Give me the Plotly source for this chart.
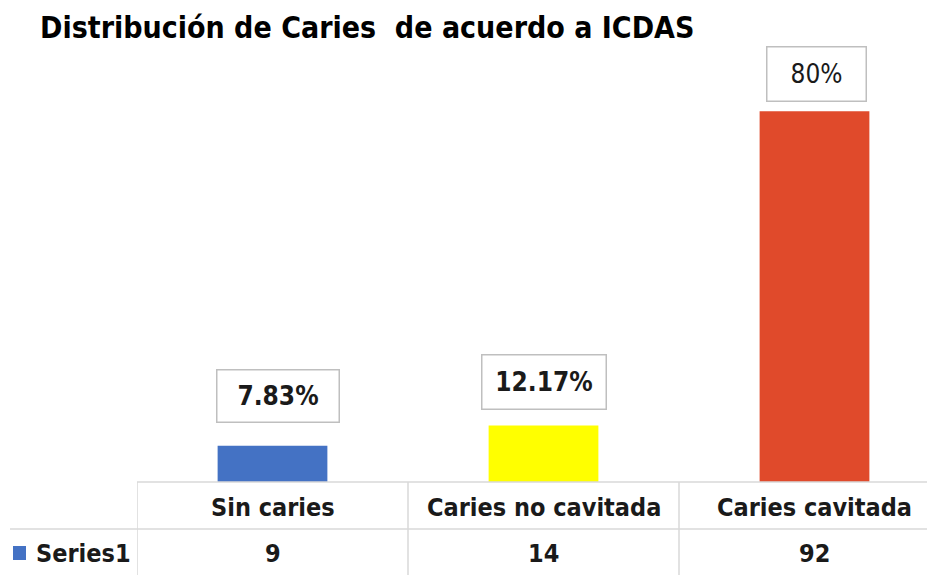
import plotly.graph_objects as go

categories = ["Sin caries", "Caries no cavitada", "Caries cavitada"]
values = [9, 14, 92]
pct_labels = ["7.83%", "12.17%", "80%"]
series_name = "Series1"
title_text = "Distribución de Caries  de acuerdo a ICDAS"

bar_colors = ["#4472C4", "#FFFF00", "#E04A2B"]
label_bold = [True, True, False]
label_gap = [23, 16, 9]
label_box_w = [121, 123, 98]
label_box_h = [51, 53, 53]
label_xshift = [5, 0, 2]

FONT = "DejaVu Sans Condensed, DejaVu Sans, sans-serif"
OFF = 8  # page body margin
SW, SH = 935, 575  # screenshot size
W, H = SW, SH - OFF
ML = 137 - OFF
MR = OFF
MT = 79 - OFF
MB = SH - 482
plot_w = W - ML - MR
plot_h = H - MT - MB
col_w = 271
xr = [-0.5, -0.5 + plot_w / col_w]


def py(px):
    # screenshot pixel row -> paper y
    return (H - MB - (px - OFF)) / plot_h


def pxx(px):
    # screenshot pixel column -> paper x
    return (px - OFF - ML) / plot_w


fig = go.Figure()
fig.add_trace(go.Bar(
    x=categories, y=values, marker=dict(color=bar_colors, line=dict(width=0)),
    width=0.405, name=series_name, showlegend=False, hoverinfo="x+y",
))

TXT = "#1a1a1a"
annotations = []
for i, (c, v, lab) in enumerate(zip(categories, values, pct_labels)):
    txt = f"<b>{lab}</b>" if label_bold[i] else lab
    annotations.append(dict(
        x=c, y=v, xref="x", yref="y", text=txt, showarrow=False,
        yanchor="bottom", yshift=label_gap[i], xshift=label_xshift[i],
        width=label_box_w[i], height=label_box_h[i], borderpad=0,
        bordercolor="#BFBFBF", borderwidth=1.5, bgcolor="white",
        font=dict(family=FONT, size=26, color=TXT),
    ))
    annotations.append(dict(
        x=c, y=py(507), xref="x", yref="paper", text=f"<b>{c}</b>",
        showarrow=False, yanchor="middle",
        font=dict(family=FONT, size=25, color=TXT),
    ))
    annotations.append(dict(
        x=c, y=py(553), xref="x", yref="paper", text=f"<b>{v}</b>",
        showarrow=False, yanchor="middle",
        font=dict(family=FONT, size=25, color=TXT),
    ))

annotations.append(dict(
    x=pxx(34), y=py(553), xref="paper", yref="paper", text=f"<b>{series_name}</b>",
    showarrow=False, xanchor="left", yanchor="middle",
    font=dict(family=FONT, size=25, color=TXT),
))

line_col = "#D9D9D9"
shapes = [
    dict(type="line", xref="paper", yref="paper", x0=0, x1=pxx(SW + 10), y0=py(482), y1=py(482),
         line=dict(color=line_col, width=1.5)),
    dict(type="line", xref="paper", yref="paper", x0=pxx(10), x1=pxx(SW + 10), y0=py(529), y1=py(529),
         line=dict(color=line_col, width=1.5)),
    dict(type="rect", xref="paper", yref="paper", x0=pxx(13), x1=pxx(26), y0=py(560), y1=py(546),
         fillcolor="#4472C4", line=dict(width=0)),
]
for b in [-0.5, 0.5, 1.5]:
    shapes.append(dict(type="line", xref="x", yref="paper", x0=b, x1=b, y0=py(482), y1=py(SH + 2),
                       line=dict(color=line_col, width=1.5)))

fig.update_layout(
    width=W, height=H, margin=dict(l=ML, r=MR, t=MT, b=MB),
    paper_bgcolor="white", plot_bgcolor="white",
    title=dict(text=f"<b>{title_text}</b>", xref="container", yref="container",
               x=(40 - OFF) / W, xanchor="left", y=1 - (27 - OFF) / H, yanchor="middle",
               font=dict(family=FONT, size=30, color="#000000")),
    xaxis=dict(range=xr, showticklabels=False, showgrid=False, zeroline=False,
               showline=False, ticks=""),
    yaxis=dict(range=[0, 100], visible=False),
    annotations=annotations, shapes=shapes,
)

fig.write_html("out.html")
